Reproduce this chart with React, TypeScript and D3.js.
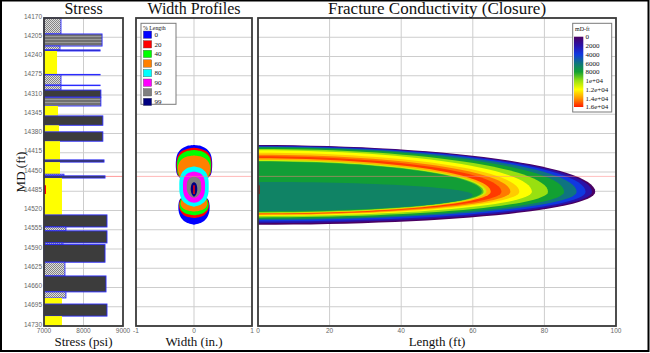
import * as d3 from "d3";

const mdTicks = [14170, 14205, 14240, 14275, 14310, 14345, 14380, 14415, 14450, 14485, 14520, 14555, 14590, 14625, 14660, 14695, 14730];
const stressTicks = [7000, 8000, 9000];
const widthTicks = [-1, 0, 1];
const lengthTicks = [0, 20, 40, 60, 80, 100];

// stress log layers (MD ft, psi); lith: S sand, H shale, G silty shale, L limy
const layerTop = [14170, 14199, 14221, 14228, 14230, 14272.5, 14273.5, 14292, 14293, 14301, 14314, 14330, 14348, 14365, 14377, 14394, 14428, 14432, 14454, 14457, 14461, 14528, 14550, 14557, 14579, 14582, 14614, 14639, 14668, 14679, 14690, 14712];
const layerBase = [14199, 14221, 14228, 14230, 14272.5, 14273.5, 14292, 14293, 14301, 14314, 14330, 14348, 14365, 14377, 14394, 14428, 14432, 14454, 14457, 14461, 14528, 14550, 14557, 14579, 14582, 14614, 14639, 14668, 14679, 14690, 14712, 14730];
const layerStress = [7430, 8470, 7405, 8420, 7330, 8420, 7430, 8420, 7430, 8440, 8440, 7355, 8490, 7380, 8490, 7405, 8520, 7405, 7505, 8545, 7455, 8595, 7555, 8595, 7480, 8545, 7530, 8570, 7555, 7455, 8595, 7455];
const layerLith = ["L", "G", "L", "H", "S", "H", "L", "H", "L", "H", "G", "S", "H", "S", "H", "S", "H", "S", "L", "H", "S", "H", "L", "H", "L", "H", "L", "H", "L", "S", "H", "S"];

const perfTop = 14474;
const perfBase = 14490;
const markerMD = 14458;

// width profiles at % of fracture length: [MD, half width (in.)]
const profileLabels = ["0", "20", "40", "60", "80", "90", "95", "99"];
const profileColors = ["#0000ff", "#ff0000", "#00ff00", "#ff8000", "#00ffff", "#ff00ff", "#808080", "#000080"];
const profile0 = [[14401, 0], [14403, 0.13], [14408, 0.22], [14416, 0.28], [14428, 0.31], [14445, 0.31], [14455, 0.29], [14461, 0.24], [14468, 0.21], [14495, 0.21], [14501, 0.25], [14512, 0.27], [14524, 0.26], [14535, 0.21], [14542, 0.13], [14546, 0]];
const profile20 = [[14406, 0], [14408, 0.12], [14412, 0.21], [14419, 0.27], [14430, 0.3], [14445, 0.3], [14455, 0.28], [14461, 0.23], [14468, 0.2], [14495, 0.2], [14501, 0.24], [14511, 0.26], [14520, 0.24], [14528, 0.18], [14532, 0.1], [14534, 0]];
const profile40 = [[14410, 0], [14412, 0.12], [14416, 0.2], [14422, 0.26], [14432, 0.29], [14445, 0.29], [14455, 0.27], [14461, 0.22], [14468, 0.19], [14495, 0.19], [14501, 0.23], [14510, 0.25], [14518, 0.23], [14524, 0.17], [14527, 0.1], [14529, 0]];
const profile60 = [[14420, 0], [14422, 0.12], [14426, 0.2], [14432, 0.25], [14441, 0.28], [14450, 0.27], [14457, 0.25], [14462, 0.21], [14468, 0.18], [14495, 0.18], [14500, 0.21], [14508, 0.23], [14515, 0.2], [14519, 0.14], [14522, 0]];
const profile80 = [[14440, 0], [14443, 0.12], [14450, 0.2], [14462, 0.245], [14476, 0.253], [14490, 0.245], [14502, 0.2], [14509, 0.12], [14513, 0]];
const profile90 = [[14449, 0], [14452, 0.1], [14458, 0.16], [14468, 0.188], [14477, 0.19], [14487, 0.185], [14497, 0.15], [14503, 0.09], [14506, 0]];
const profile95 = [[14458, 0], [14461, 0.07], [14466, 0.11], [14475, 0.125], [14484, 0.12], [14491, 0.09], [14495, 0.05], [14497, 0]];
const profile99 = [[14468, 0], [14471, 0.035], [14477, 0.053], [14484, 0.055], [14490, 0.04], [14493, 0.02], [14495, 0]];
const profiles = [profile0, profile20, profile40, profile60, profile80, profile90, profile95, profile99];

// conductivity contour bands, outer to inner (mD-ft, ft, MD)
const bandValue = [0, 2000, 4000, 6000, 8000, 10000, 12000, 13000, 14500, 15500, 13500, 11000, 9000, 7900, 6700];
const bandLength = [94.2, 93.3, 91.5, 89, 85.5, 81, 76.5, 73, 70.5, 68, 65, 63.8, 63, 62.5, 60];
const bandTop = [14401, 14402, 14403, 14404, 14405.5, 14408, 14410.5, 14415, 14418.5, 14421.5, 14425, 14428, 14430, 14431, 14468];
const bandBottom = [14546, 14543, 14540, 14537, 14535, 14532.5, 14530, 14528.5, 14527.5, 14526.5, 14525.5, 14524.5, 14523.5, 14522.5, 14521];
const bandTip = [14486, 14486, 14486, 14486, 14486, 14486, 14486, 14486, 14486, 14486, 14486, 14486, 14486, 14486, 14492];

const legendValues = [0, 2000, 4000, 6000, 8000, 10000, 12000, 14000, 16000];
const legendLabels = ["0", "2000", "4000", "6000", "8000", "1e+04", "1.2e+04", "1.4e+04", "1.6e+04"];
const legendColors = ["#4a0062", "#2a12a8", "#1038e0", "#0f7480", "#12a032", "#98e010", "#ffff00", "#ff9800", "#ff1a00"];

const serif = "'Liberation Serif', 'Times New Roman', serif";
const sans = "'Liberation Sans', Arial, sans-serif";

const PLOT_TOP = 18;
const PLOT_BOTTOM = 326;

const y = d3.scaleLinear().domain([14170, 14730]).range([PLOT_TOP, PLOT_BOTTOM]);
const xStress = d3.scaleLinear().domain([7000, 9000]).range([44, 123]);
const xWidth = d3.scaleLinear().domain([-1, 1]).range([136, 252]);
const xLen = d3.scaleLinear().domain([0, 100]).range([258, 616]);
const condColor = d3.scaleLinear<string>().domain(legendValues).range(legendColors);

const lithFill: Record<string, string> = { S: "#ffff00", H: "#3c3c3c", G: "url(#hatch)", L: "url(#checker)" };

function bandPath(L: number, top: number, bottom: number, tip: number) {
  const pts = d3.range(-90, 91, 3).map((deg) => {
    const t = (deg * Math.PI) / 180;
    const r = t < 0 ? tip - top : bottom - tip;
    return [xLen(L * Math.cos(t)), y(tip + r * Math.sin(t))] as [number, number];
  });
  return (d3.line()(pts) ?? "") + "Z";
}

const profileArea = d3
  .area<number[]>()
  .y((d) => y(d[0]))
  .x0((d) => xWidth(-d[1]))
  .x1((d) => xWidth(d[1]))
  .curve(d3.curveCatmullRom);

function Grid({ x, vTicks }: { x: d3.ScaleLinear<number, number>; vTicks: number[] }) {
  const [x0, x1] = x.range();
  return (
    <g stroke="#cdcdcd" strokeWidth={1}>
      {mdTicks.map((t) => (
        <line key={"h" + t} x1={x0} x2={x1} y1={y(t)} y2={y(t)} />
      ))}
      {vTicks.map((t) => (
        <line key={"v" + t} x1={x(t)} x2={x(t)} y1={PLOT_TOP} y2={PLOT_BOTTOM} />
      ))}
    </g>
  );
}

function Frame({ x, ticks, title, titleSize = 16, xLabel }: { x: d3.ScaleLinear<number, number>; ticks: number[]; title: string; titleSize?: number; xLabel: string }) {
  const [x0, x1] = x.range();
  return (
    <g>
      <rect x={x0} y={PLOT_TOP} width={x1 - x0} height={PLOT_BOTTOM - PLOT_TOP} fill="none" stroke="#3a3a3a" strokeWidth={1.8} />
      {ticks.map((t) => (
        <text key={t} x={x(t)} y={333} fontSize={6.5} fontFamily={sans} fill="#666" textAnchor="middle">
          {t}
        </text>
      ))}
      <text x={(x0 + x1) / 2} y={14} fontSize={titleSize} fontFamily={serif} textAnchor="middle" fill="#111">
        {title}
      </text>
      <text x={(x0 + x1) / 2} y={345.5} fontSize={13} fontFamily={serif} textAnchor="middle" fill="#111">
        {xLabel}
      </text>
    </g>
  );
}

export default function App() {
  return (
    <svg width={650} height={353} style={{ position: "absolute", left: 0, top: 0, background: "#fff" }}>
      <defs>
        <pattern id="checker" width={2} height={2} patternUnits="userSpaceOnUse">
          <rect width={2} height={2} fill="#dcdcdc" />
          <rect width={1} height={1} fill="#858585" />
          <rect x={1} y={1} width={1} height={1} fill="#858585" />
        </pattern>
        <pattern id="hatch" width={3} height={3} patternUnits="userSpaceOnUse">
          <rect width={3} height={3} fill="#707070" />
          <rect width={3} height={1} fill="#9a9a9a" />
        </pattern>
        <linearGradient id="condGrad" x1="0" y1="0" x2="0" y2="1">
          {legendColors.map((c, i) => (
            <stop key={i} offset={`${(i / (legendColors.length - 1)) * 100}%`} stopColor={c} />
          ))}
        </linearGradient>
        <clipPath id="condLegendClip">
          <rect x={573} y={23} width={38.5} height={89} />
        </clipPath>
      </defs>

      {/* Stress panel */}
      <Grid x={xStress} vTicks={[8000]} />
      <line x1={xStress(7000)} x2={xStress(9000)} y1={y(markerMD)} y2={y(markerMD)} stroke="#ff9a9a" strokeWidth={1} />
      <g>
        {layerTop.map((t, i) => (
          <rect
            key={i}
            x={xStress(7000)}
            y={y(t)}
            width={xStress(layerStress[i]) - xStress(7000)}
            height={Math.max(0.5, y(layerBase[i]) - y(t))}
            fill={lithFill[layerLith[i]]}
            stroke={layerLith[i] === "S" ? "none" : "#2a2aff"}
            strokeWidth={0.9}
          />
        ))}
      </g>
      <line x1={xStress(7000) + 1} x2={xStress(7000) + 1} y1={y(perfTop)} y2={y(perfBase)} stroke="#ff0000" strokeWidth={2} />
      {mdTicks.map((t) => (
        <text key={t} x={42} y={y(t) + 0.5} fontSize={6.5} fontFamily={sans} fill="#666" textAnchor="end">
          {t}
        </text>
      ))}
      <text transform={`translate(24.5,${(PLOT_TOP + PLOT_BOTTOM) / 2}) rotate(-90)`} fontSize={13} fontFamily={serif} textAnchor="middle" fill="#111">
        MD (ft)
      </text>
      <Frame x={xStress} ticks={stressTicks} title="Stress" xLabel="Stress (psi)" />

      {/* Width profiles panel */}
      <Grid x={xWidth} vTicks={[0]} />
      {profiles.map((p, i) => (
        <path key={i} d={profileArea(p) ?? ""} fill={profileColors[i]} />
      ))}
      <line x1={xWidth(0)} x2={xWidth(0)} y1={y(perfTop)} y2={y(perfBase)} stroke="#ff0000" strokeWidth={1.5} />
      <line x1={xWidth(-1)} x2={xWidth(1)} y1={y(markerMD)} y2={y(markerMD)} stroke="#ff8080" strokeOpacity={0.55} strokeWidth={1} />
      <g>
        <rect x={141} y={23.3} width={35} height={81} fill="#fff" stroke="#7a7a7a" strokeWidth={1} />
        <text x={143} y={29.5} fontSize={5.8} fontFamily={serif} fill="#111">
          % Length
        </text>
        {profileLabels.map((l, i) => (
          <g key={l}>
            <rect x={143.3} y={31 + i * 9.6} width={8.4} height={7.4} fill={profileColors[i]} stroke="#555" strokeWidth={0.4} />
            <text x={154.5} y={37 + i * 9.6} fontSize={7} fontFamily={serif} fill="#111">
              {l}
            </text>
          </g>
        ))}
      </g>
      <Frame x={xWidth} ticks={widthTicks} title="Width Profiles" xLabel="Width (in.)" />

      {/* Fracture conductivity panel */}
      <Grid x={xLen} vTicks={[20, 40, 60, 80]} />
      {bandValue.map((v, i) => (
        <path key={i} d={bandPath(bandLength[i], bandTop[i], bandBottom[i], bandTip[i])} fill={condColor(v)} />
      ))}
      <line x1={xLen(0) + 0.8} x2={xLen(0) + 0.8} y1={y(perfTop)} y2={y(perfBase)} stroke="#b00000" strokeWidth={1.5} />
      <line x1={xLen(0)} x2={xLen(100)} y1={y(markerMD)} y2={y(markerMD)} stroke="#ff8080" strokeOpacity={0.5} strokeWidth={1} />
      <g>
        <rect x={572.7} y={23.3} width={39} height={88.7} fill="#fff" stroke="#7a7a7a" strokeWidth={1} />
        <text x={575} y={30.5} fontSize={6} fontFamily={serif} fill="#111">
          mD-ft
        </text>
        <rect x={574} y={36.7} width={9.3} height={70.3} fill="url(#condGrad)" />
        <g clipPath="url(#condLegendClip)">
          {legendLabels.map((l, i) => (
            <text key={l} x={585.5} y={39.3 + i * 8.75} fontSize={7} fontFamily={serif} fill="#111">
              {l}
            </text>
          ))}
        </g>
      </g>
      <Frame x={xLen} ticks={lengthTicks} title="Fracture Conductivity (Closure)" titleSize={17} xLabel="Length (ft)" />

      {/* outer border */}
      <rect x={1} y={0.5} width={647.5} height={350.5} fill="none" stroke="#000" strokeWidth={2} />
    </svg>
  );
}
